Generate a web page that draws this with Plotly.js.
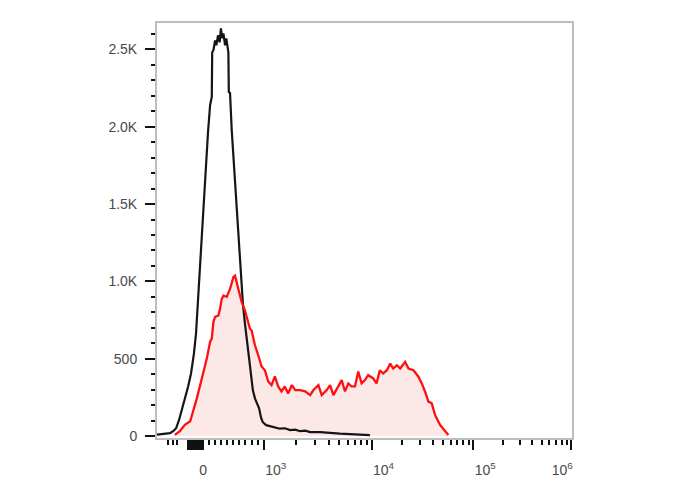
<!DOCTYPE html>
<html>
<head>
<meta charset="utf-8">
<script src="https://cdn.plot.ly/plotly-3.0.1.min.js"></script>
<style>html,body{margin:0;padding:0;background:#fff;}#chart{width:688px;height:490px;}</style>
</head>
<body>
<div id="chart"></div>
<script>
// Histogram bins are in display channels (0-1000) of a biexponential axis
const blackChannels = [0,19,31,39,46,53,60,67,75,82,89,94,99,104,108,113,118,123,128,132,133,136,140,143,147,151,154,157,160,164,167,170,172,173,176,180,183,188,193,198,202,207,212,217,222,227,231,236,241,246,251,255,263,272,284,296,308,321,333,345,357,369,393,417,441,465,489,513];
const blackCounts = [10,13,19,32,51,103,167,244,321,405,533,662,887,1131,1324,1562,1755,1967,2140,2192,2481,2494,2558,2526,2590,2545,2635,2571,2603,2526,2571,2494,2481,2224,2217,1980,1851,1710,1465,1240,1048,855,726,630,501,386,296,244,212,180,116,90,71,64,58,48,51,39,42,32,35,26,26,19,16,13,10,6];

const redChannels = [43,55,67,80,87,96,108,120,128,132,136,140,148,152,156,160,168,176,184,188,196,204,212,220,224,228,236,244,252,260,268,276,284,292,300,308,316,325,333,345,357,369,377,389,397,409,417,425,437,445,453,461,469,477,485,493,501,509,521,529,537,545,554,562,569,578,586,598,606,618,630,638,646,654,662,670,682,694,702];
const redCounts = [8,32,73,96,161,244,373,501,611,630,739,771,780,823,887,908,900,951,1028,1037,951,868,812,739,694,683,587,523,450,426,353,330,386,321,289,321,276,330,298,298,289,265,298,330,265,298,330,265,321,362,289,341,321,321,418,341,362,394,373,341,426,405,426,469,437,458,437,480,437,426,384,341,287,223,212,137,73,30,8];

const xMajorValues = [0, 1e3, 1e4, 1e5, 1e6];
const xMajorLabels = ["0", "10<sup>3</sup>", "10<sup>4</sup>", "10<sup>5</sup>", "10<sup>6</sup>"];
const xNearZeroTicks = [-10,-20,-30,-40,-50,-60,-70,-80,-90,-100];
const xMinorValues = [-500,-1000,-2000,100,200,300,400,500,600,700,800,900];
const yTickValues = [0, 500, 1000, 1500, 2000, 2500];
const yTickLabels = ["0", "500", "1.0K", "1.5K", "2.0K", "2.5K"];

// axis scale: biexponential-like mapping of values to display channel
const decadeChannel = {3: 257, 4: 517, 5: 762, 6: 998};
const zeroChannel = 111;
const pxToChannel = 1000 / 415;
function toChannel(v) {
  if (v >= 1000) {
    const lg = Math.log10(v);
    const k = Math.min(5, Math.floor(lg + 1e-9));
    return decadeChannel[k] + (lg - k) * (decadeChannel[k + 1] - decadeChannel[k]);
  }
  if (v >= 0) return zeroChannel + v / 1000 * (decadeChannel[3] - zeroChannel);
  if (v >= -100) return zeroChannel + v * 0.375;
  return zeroChannel - 37.5 - 36 * Math.log10(Math.abs(v) / 100);
}
const minorVals = xMinorValues.slice();
for (let k = 3; k <= 5; k++) for (let m = 2; m <= 9; m++) minorVals.push(m * Math.pow(10, k));
const labelShiftPx = [0, 12, 12, 12, -9];

const font = {family: "Arial, 'Liberation Sans', sans-serif", size: 14, color: "#4a4a4a"};

const traces = [
  {x: redChannels, y: redCounts, type: "scatter", mode: "lines", fill: "tozeroy",
   fillcolor: "#fde8e8", line: {color: "rgba(0,0,0,0)", width: 0}, hoverinfo: "skip"},
  {x: blackChannels, y: blackCounts, type: "scatter", mode: "lines",
   line: {color: "#151515", width: 2.2}},
  {x: redChannels, y: redCounts, type: "scatter", mode: "lines",
   line: {color: "#ff1010", width: 2.3}},
  {x: [500], y: [-100], xaxis: "x2", type: "scatter", mode: "markers",
   marker: {opacity: 0}, hoverinfo: "skip"}
];

const layout = {
  width: 688, height: 490,
  margin: {l: 157, r: 116, t: 23, b: 52},
  paper_bgcolor: "#fff", plot_bgcolor: "#fff",
  showlegend: false,
  font: font,
  xaxis: {
    range: [0, 1000], showgrid: false, zeroline: false,
    showline: true, mirror: true, linecolor: "#bdbdbd", linewidth: 2,
    tickmode: "array",
    tickvals: xMajorValues.concat(xNearZeroTicks).map(toChannel),
    ticks: "outside", ticklen: 10, tickwidth: 2, tickcolor: "#111",
    showticklabels: false,
    minor: {tickmode: "array", tickvals: minorVals.map(toChannel), ticks: "outside",
            ticklen: 5, tickwidth: 2, tickcolor: "#111"}
  },
  xaxis2: {
    overlaying: "x", anchor: "y", side: "bottom",
    range: [0, 1000], showgrid: false, zeroline: false, showline: false,
    tickmode: "array",
    tickvals: xMajorValues.map(function (v, i) { return toChannel(v) + labelShiftPx[i] * pxToChannel; }),
    ticktext: xMajorLabels,
    ticks: "", ticklabelstandoff: 22, tickfont: font
  },
  yaxis: {
    range: [-12, 2670], showgrid: false, zeroline: false,
    showline: true, mirror: true, linecolor: "#bdbdbd", linewidth: 2,
    tickmode: "array", tickvals: yTickValues, ticktext: yTickLabels,
    ticks: "outside", ticklen: 10, tickwidth: 2, tickcolor: "#111",
    ticklabelstandoff: 5, tickfont: font,
    minor: {dtick: 100, ticks: "outside", ticklen: 4, tickwidth: 2, tickcolor: "#111"}
  }
};

Plotly.newPlot("chart", traces, layout, {displayModeBar: false, staticPlot: true});
</script>
</body>
</html>
